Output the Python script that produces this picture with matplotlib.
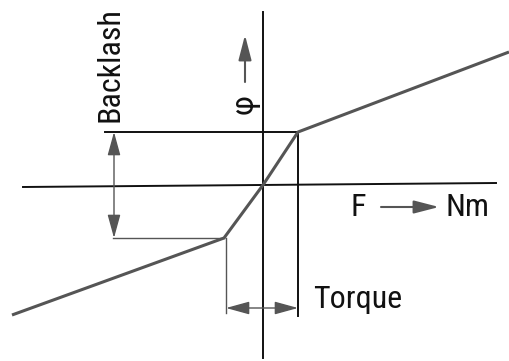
import matplotlib
matplotlib.use("Agg")
import matplotlib.pyplot as plt

# Characteristic curve (torque vs. twist angle), drawing units
curve_torque = [-251, -39, 0, 35, 246]
curve_angle = [-130, -53, 0, 53, 133]
backlash_hi = 53
backlash_lo = -53
torque_lo = -37
torque_hi = 35

plt.rcParams['font.family'] = ['Roboto Condensed', 'Roboto', 'DejaVu Sans']

fig = plt.figure(figsize=(5.1, 3.61), dpi=100)
ax = fig.add_axes([0, 0, 1, 1])
ax.set_xlim(-263, 247)
ax.set_ylim(-176, 185)
ax.axis('off')

black = '#111111'
grey = '#555555'

# axes
ax.plot([0, 0], [173, -173], color=black, lw=1.4)
ax.plot([-240, 233], [-2, 2], color=black, lw=1.4)

# top box lines
ax.plot([-158, torque_hi], [backlash_hi, backlash_hi], color=black, lw=1.4)
ax.plot([torque_hi, torque_hi], [backlash_hi, -131], color=black, lw=1.4)

# lower construction lines
ax.plot([-150, curve_torque[1]], [backlash_lo, backlash_lo], color=grey, lw=1.0)
ax.plot([torque_lo, torque_lo], [backlash_lo, -128], color=grey, lw=1.0)

# curve
ax.plot(curve_torque, curve_angle, color=grey, lw=2.2, solid_capstyle='butt')

# backlash dimension arrow
ax.annotate('', xy=(-149, backlash_hi), xytext=(-149, backlash_lo),
            arrowprops=dict(arrowstyle='<|-|>,head_length=0.8,head_width=0.22',
                            color=grey, lw=1.0,
                            mutation_scale=18, shrinkA=0, shrinkB=0))
# torque dimension arrow
ax.annotate('', xy=(torque_lo, -123), xytext=(torque_hi, -123),
            arrowprops=dict(arrowstyle='<|-|>,head_length=0.8,head_width=0.22',
                            color=grey, lw=1.0,
                            mutation_scale=18, shrinkA=0, shrinkB=0))
# phi arrow
ax.annotate('', xy=(-18, 150), xytext=(-18, 103),
            arrowprops=dict(arrowstyle='-|>,head_length=0.85,head_width=0.22',
                            color=grey, lw=1.5,
                            mutation_scale=18, shrinkA=0, shrinkB=0))
# F arrow
ax.annotate('', xy=(176, -22), xytext=(118, -22),
            arrowprops=dict(arrowstyle='-|>,head_length=0.85,head_width=0.22',
                            color=grey, lw=1.5,
                            mutation_scale=18, shrinkA=0, shrinkB=0))

fs = 23
ax.text(-153, 120, 'Backlash', rotation=90, ha='center', va='center',
        fontsize=fs, color=black)
ax.text(-18, 81, 'φ', rotation=90, ha='center', va='center',
        fontsize=fs, color=black)
ax.text(95, -22, 'F', ha='center', va='center', fontsize=fs, color=black)
ax.text(205, -22, 'Nm', ha='center', va='center', fontsize=fs, color=black)
ax.text(50, -115, 'Torque', ha='left', va='center', fontsize=fs, color=black)

fig.savefig('out.png', dpi=100)
